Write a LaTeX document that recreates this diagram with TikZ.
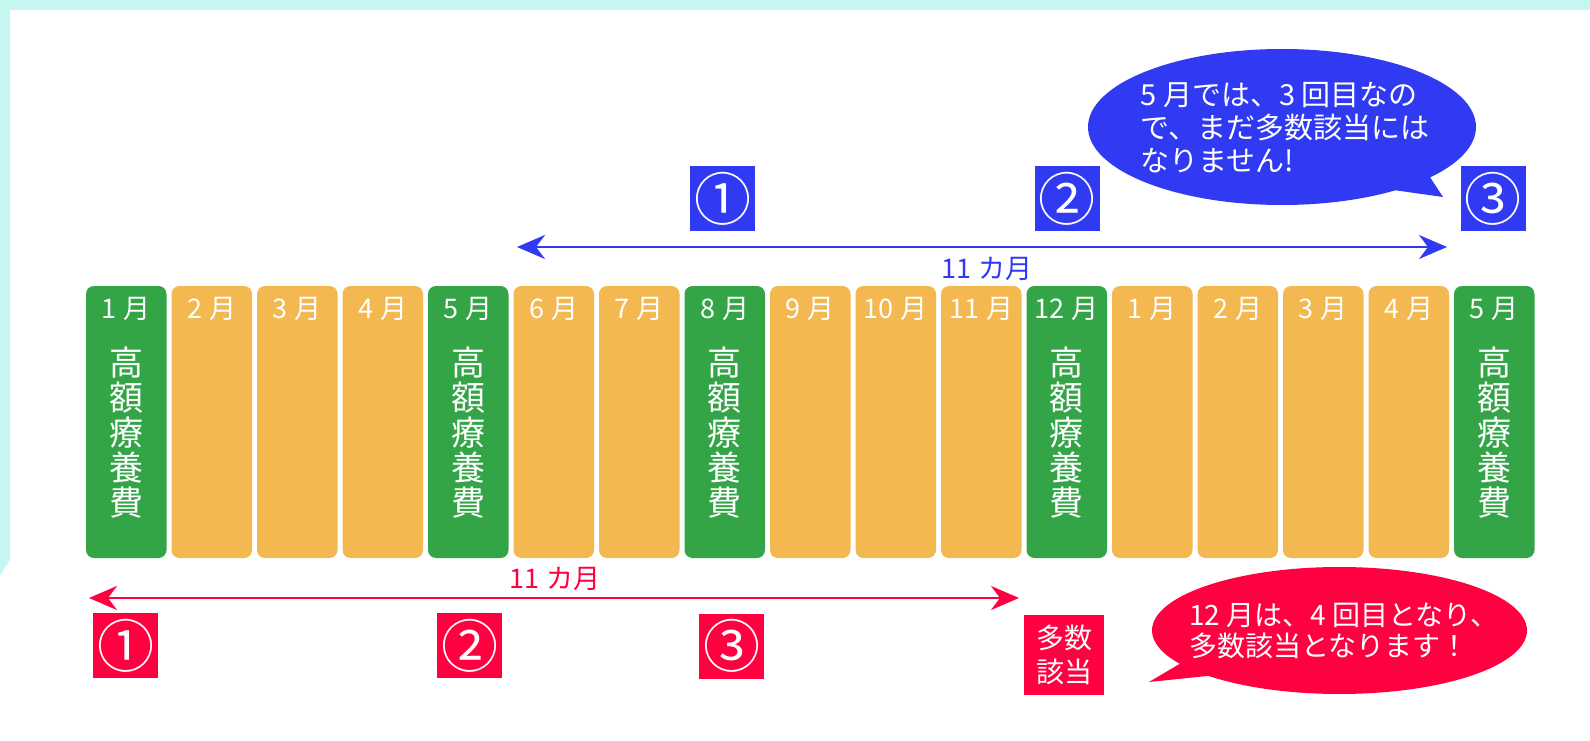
\documentclass[tikz,border=0pt]{standalone}
\usepackage{fontspec}
\setmainfont{Noto Sans CJK JP}
\usetikzlibrary{arrows.meta,shapes.callouts}
\definecolor{kgreen}{RGB}{52,165,71}
\definecolor{korange}{RGB}{244,184,80}
\definecolor{kblue}{RGB}{48,58,242}
\definecolor{kred}{RGB}{255,0,64}
\definecolor{kcyan}{RGB}{198,246,242}
\begin{document}
\begin{tikzpicture}[x=1pt,y=-1pt,
        monthbar/.style={rounded corners=8pt,minimum width=80.5pt,minimum height=272pt,inner sep=0pt},
        monthtext/.style={text=white,font=\fontsize{27}{27}\selectfont},
        kanjitext/.style={text=white,align=center,font=\fontsize{34}{35}\selectfont},
        numbox/.style={minimum size=65pt,inner sep=0pt,text=white,font=\fontsize{57}{57}\selectfont},
        period/.style={line width=2.5pt,{Stealth[length=28pt,width=24pt,inset=9pt]}-{Stealth[length=28pt,width=24pt,inset=9pt]}},
        bubble/.style={ellipse callout,inner sep=0pt,callout pointer arc=14}]
            \fill[white] (0,0) rectangle (1590,741);
            \fill[kcyan] (0,0) rectangle (1590,10);
            \fill[kcyan] (0,0) -- (10,0) -- (10,560) -- (0,575) -- cycle;
            \useasboundingbox (0,0) rectangle (1590,741);
            \foreach \i/\m/\col in {0/1/kgreen,1/2/korange,2/3/korange,3/4/korange,4/5/kgreen,5/6/korange,
                    6/7/korange,7/8/kgreen,8/9/korange,9/10/korange,10/11/korange,11/12/kgreen,
                    12/1/korange,13/2/korange,14/3/korange,15/4/korange,16/5/kgreen}{
                \node[monthbar,fill=\col] (bar\i) at (126.25+85.5*\i,422) {};
                \node[monthtext] (mon\i) at ([yshift=-23pt]bar\i.north) {\m\hspace{7pt}月};
            }
            \foreach \i in {0,4,7,11,16}
                \node[kanjitext] (kou\i) at ([yshift=-146.5pt]bar\i.north) {高\\額\\療\\養\\費};
            \begin{scope}
            \coordinate (bs) at (517,247);
            \coordinate (be) at (1447,247);
            \draw[period,kblue] (bs) -- (be);
            \node[text=kblue,font=\fontsize{27}{27}\selectfont] (blen) at (987,269) {11\hspace{7pt}カ月};
            \node[numbox,fill=kblue] (b1) at (722.5,198.5) {①};
            \node[numbox,fill=kblue] (b2) at (1067,198.5) {②};
            \node[numbox,fill=kblue] (b3) at (1493,198.5) {③};
            \node[bubble,fill=kblue,minimum width=388pt,minimum height=156pt,
                callout absolute pointer={(1443,197)}] (bcall) at (1282,127) {};
            \node[text=white,align=left,font=\fontsize{29}{33}\selectfont] (bmsg) at (1285,128)
                {5 月では、3 回目なの\\で、まだ多数該当には\\なりません!};
            \end{scope}
            \begin{scope}
            \coordinate (rs) at (89,598);
            \coordinate (re) at (1019,598);
            \draw[period,kred] (rs) -- (re);
            \node[text=kred,font=\fontsize{27}{27}\selectfont] (rlen) at (555,579) {11\hspace{7pt}カ月};
            \node[numbox,fill=kred] (r1) at (125.5,645.5) {①};
            \node[numbox,fill=kred] (r2) at (469.5,645.5) {②};
            \node[numbox,fill=kred] (r3) at (731.5,646) {③};
            \node[fill=kred,minimum size=80pt,inner sep=0pt,text=white,align=center,
                font=\fontsize{28}{34}\selectfont] (many) at (1064,655) {多数\\該当};
            \node[bubble,fill=kred,minimum width=375pt,minimum height=127pt,
                callout absolute pointer={(1149,682)}] (rcall) at (1339.5,630.5) {};
            \node[text=white,align=left,font=\fontsize{28}{31}\selectfont] (rmsg) at (1344,631)
                {12 月は、4 回目となり、\\多数該当となります！};
            \end{scope}
        \end{tikzpicture}
\end{document}
